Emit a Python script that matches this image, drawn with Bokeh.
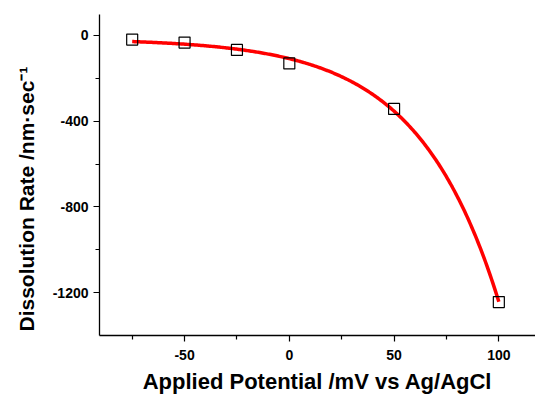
import numpy as np
from bokeh.plotting import figure
from bokeh.models import FixedTicker, Range1d, Title
from bokeh.embed import file_html
from bokeh.resources import INLINE

# Data
potential = [-75, -50, -25, 0, 50, 100]
rate = [-20, -34, -68, -131, -343, -1243]
x_ticks = [-50, 0, 50, 100]
x_minor = [-75, -25, 25, 75]
y_ticks = [-1200, -800, -400, 0]
y_minor = [-1000, -600, -200]

# Exponential fit y = y0 + A*exp(x/t) derived from the data points
xd = np.array(potential, float)
yd = np.array(rate, float)
best = None
for t in np.linspace(10, 200, 1901):
    M = np.column_stack([np.ones_like(xd), np.exp(xd / t)])
    coef, *_ = np.linalg.lstsq(M, yd, rcond=None)
    err = np.sum((M @ coef - yd) ** 2)
    if best is None or err < best[0]:
        best = (err, t, coef)
_, t_fit, (y0, A) = best
xf = np.linspace(min(potential), max(potential), 300)
yf = y0 + A * np.exp(xf / t_fit)

FONT = "Liberation Sans"

p = figure(width=535, height=396, output_backend="svg", toolbar_location=None,
           x_range=Range1d(-90.6, 117.5), y_range=Range1d(-1399, 97),
           min_border_left=98, min_border_bottom=59, min_border_top=14, min_border_right=0)
p.outline_line_color = None
p.xgrid.visible = False
p.ygrid.visible = False

p.line(xf, yf, line_color="#ff0000", line_width=3.5)
p.scatter(potential, rate, marker="square", size=11, fill_color=None,
          line_color="black", line_width=1.2)

for ax in (p.xaxis[0], p.yaxis[0]):
    ax.axis_line_width = 1.3
    ax.axis_line_color = "black"
    ax.major_tick_line_color = "black"
    ax.minor_tick_line_color = "black"
    ax.major_tick_line_width = 1.2
    ax.minor_tick_line_width = 1.2
    ax.major_tick_in = 0
    ax.major_tick_out = 6
    ax.minor_tick_in = 0
    ax.minor_tick_out = 4
    ax.major_label_text_font = FONT
    ax.major_label_text_font_style = "bold"
    ax.major_label_text_font_size = "14px"
    ax.major_label_text_color = "black"
    ax.axis_label_text_font = FONT
    ax.axis_label_text_font_style = "bold"
    ax.axis_label_text_color = "black"

p.xaxis.axis_label_text_font_size = "22px"
p.xaxis.ticker = FixedTicker(ticks=x_ticks, minor_ticks=x_minor)
p.yaxis.ticker = FixedTicker(ticks=y_ticks, minor_ticks=y_minor)
p.xaxis.major_label_overrides = {v: str(v) for v in x_ticks}
p.yaxis.major_label_overrides = {v: str(v) for v in y_ticks}
p.xaxis.major_label_standoff = 8
p.yaxis.major_label_standoff = 5
p.xaxis.axis_label = "Applied Potential /mV vs Ag/AgCl"
p.xaxis.axis_label_standoff = 6

ytitle = Title(text="Dissolution Rate /nm\u00b7sec\u207b\u00b9", align="left",
               text_font=FONT, text_font_style="bold", text_font_size="21px",
               text_color="black", offset=4, standoff=24)
p.add_layout(ytitle, "left")

open("out.html", "w").write(file_html(p, INLINE))
